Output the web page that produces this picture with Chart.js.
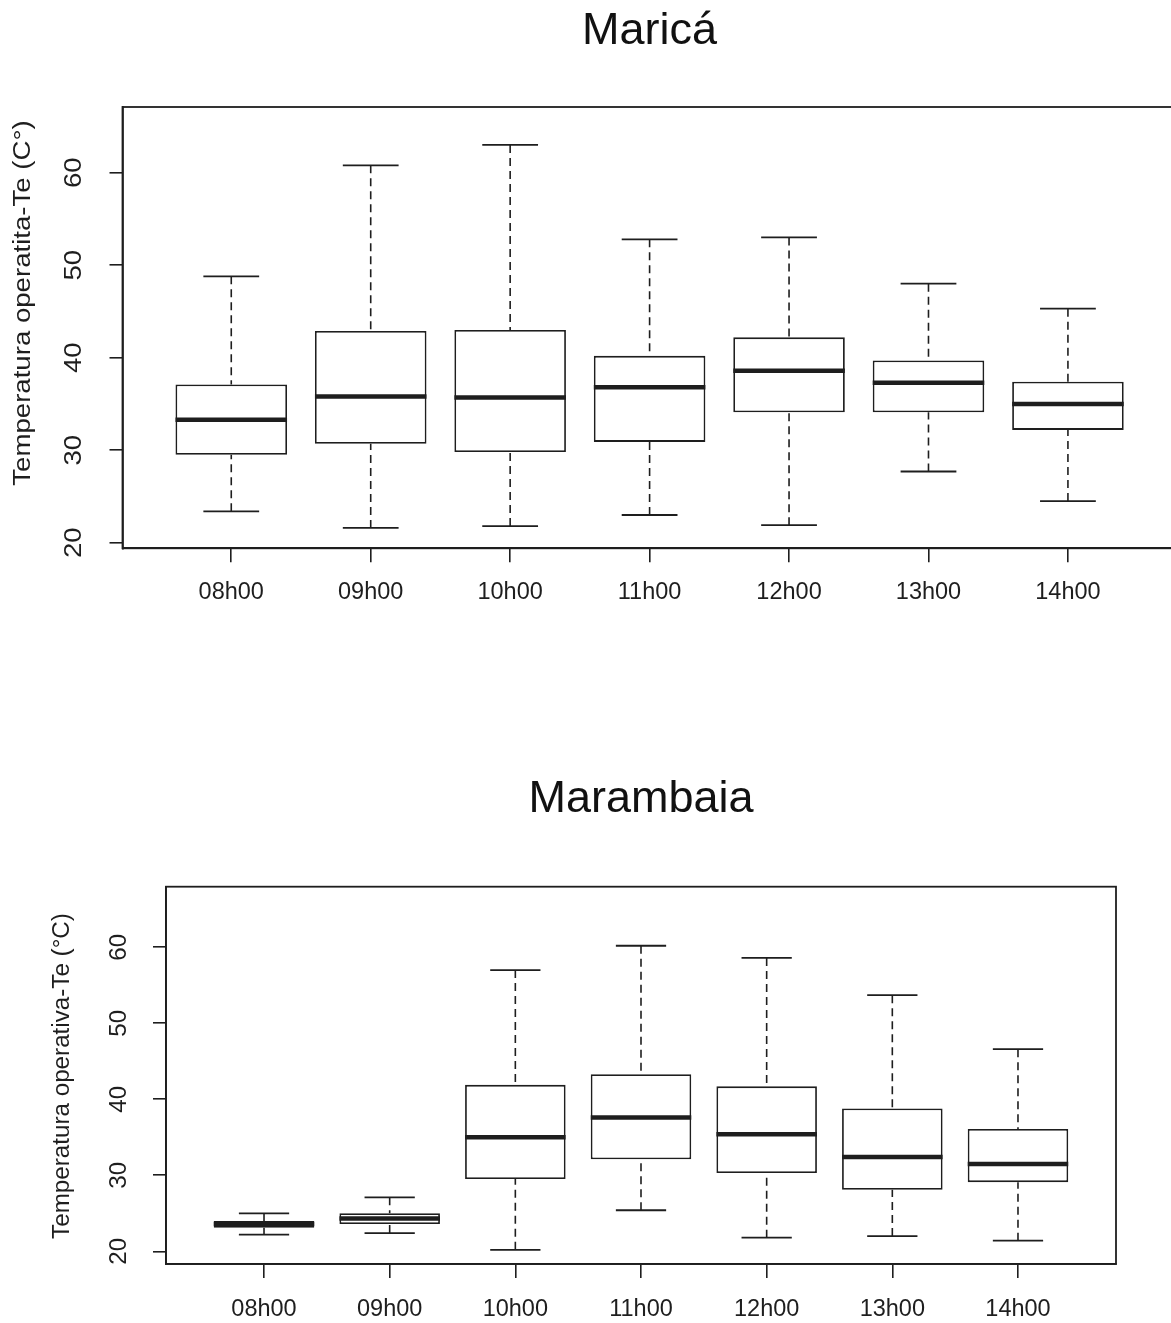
<!DOCTYPE html>
<html>
<head>
<meta charset="utf-8">
<script src="https://cdn.jsdelivr.net/npm/chart.js@4.4.1/dist/chart.umd.min.js"></script>
<style>
  html, body { margin: 0; padding: 0; background: #fff; overflow: hidden; width: 1171px; height: 1323px; }
  canvas { position: absolute; left: 0; }
  #marica { top: 0; }
  #marambaia { top: 660px; }
</style>
</head>
<body>
<canvas id="marica" width="1190" height="660"></canvas>
<canvas id="marambaia" width="1171" height="663"></canvas>
<script>
// Sampling hours (x categories) and value-axis ticks
const hours = ['08h00', '09h00', '10h00', '11h00', '12h00', '13h00', '14h00'];
const tempTicks = [20, 30, 40, 50, 60];

// Maricá: operative temperature five-number summaries per hour
const maricaMin = [23.4, 21.6, 21.8, 23.0, 21.9, 27.7, 24.5];
const maricaQ1  = [29.5, 30.7, 29.8, 30.9, 34.1, 34.1, 32.2];
const maricaMed = [33.3, 35.8, 35.7, 36.8, 38.6, 37.3, 35.0];
const maricaQ3  = [37.1, 42.9, 43.0, 40.2, 42.2, 39.7, 37.4];
const maricaMax = [48.8, 60.8, 63.0, 52.8, 53.0, 48.0, 45.3];

// Marambaia: operative temperature five-number summaries per hour
const marambaiaMin = [22.2, 22.4, 20.2, 25.4, 21.8, 22.0, 21.4];
const marambaiaQ1  = [23.1, 23.6, 29.5, 32.1, 30.3, 28.1, 29.1];
const marambaiaMed = [23.6, 24.3, 35.0, 37.6, 35.4, 32.4, 31.5];
const marambaiaQ3  = [24.0, 25.0, 41.9, 43.3, 41.7, 38.8, 36.1];
const marambaiaMax = [25.0, 27.1, 57.0, 60.2, 58.6, 53.7, 46.6];

const INK = '#1e1e1e';
const FONT = '"Liberation Sans", Arial, Helvetica, sans-serif';

// Draws whiskers, caps, medians, the plot frame and the vertical y texts
const boxplotMarks = {
  id: 'boxplotMarks',
  afterDatasetsDraw(chart, args, opts) {
    const { ctx, chartArea } = chart;
    const ys = chart.scales.y;
    const meta = chart.getDatasetMeta(0);
    ctx.save();
    ctx.strokeStyle = INK;
    ctx.lineCap = 'butt';
    meta.data.forEach((bar, i) => {
      const x = bar.x, w = bar.width;
      const pMin = ys.getPixelForValue(opts.min[i]);
      const pQ1 = ys.getPixelForValue(opts.q1[i]);
      const pMed = ys.getPixelForValue(opts.med[i]);
      const pQ3 = ys.getPixelForValue(opts.q3[i]);
      const pMax = ys.getPixelForValue(opts.max[i]);
      // dashed whiskers
      ctx.lineWidth = 1.6;
      ctx.setLineDash([8, 5]);
      ctx.beginPath();
      ctx.moveTo(x, pMax); ctx.lineTo(x, pQ3);
      ctx.moveTo(x, pMin); ctx.lineTo(x, pQ1);
      ctx.stroke();
      ctx.setLineDash([]);
      // staples
      ctx.lineWidth = 1.8;
      ctx.beginPath();
      ctx.moveTo(x - w / 4, pMax); ctx.lineTo(x + w / 4, pMax);
      ctx.moveTo(x - w / 4, pMin); ctx.lineTo(x + w / 4, pMin);
      ctx.stroke();
      // median
      ctx.lineWidth = 4.5;
      ctx.beginPath();
      ctx.moveTo(x - w / 2, pMed); ctx.lineTo(x + w / 2, pMed);
      ctx.stroke();
    });
    // plot frame
    ctx.lineWidth = 1.8;
    ctx.strokeRect(chartArea.left, chartArea.top, chartArea.right - chartArea.left, chartArea.bottom - chartArea.top);

    // vertical y tick labels and axis title (R-style, reading upwards)
    ctx.fillStyle = INK;
    ctx.textAlign = 'center';
    ctx.textBaseline = 'middle';
    ctx.font = opts.fontSize + 'px ' + FONT;
    ys.ticks.forEach(t => {
      const py = ys.getPixelForValue(t.value);
      ctx.save();
      ctx.translate(chartArea.left - opts.tickLabelGap, py);
      ctx.rotate(-Math.PI / 2);
      ctx.scale(opts.stretch, 1);
      ctx.fillText(String(t.value), 0, 0);
      ctx.restore();
    });
    ctx.save();
    ctx.translate(opts.titleX, opts.titleY);
    ctx.rotate(-Math.PI / 2);
    ctx.scale(opts.stretch, 1);
    ctx.fillText(opts.yTitle, 0, 0);
    ctx.restore();
    ctx.restore();
  }
};

function boxChart(id, cfg) {
  return new Chart(document.getElementById(id), {
    type: 'bar',
    data: {
      datasets: [{
        data: cfg.q1.map((q, i) => ({ x: i + 1, y: [q, cfg.q3[i]] })),
        backgroundColor: '#ffffff',
        borderColor: INK,
        borderWidth: 1.8,
        borderSkipped: false,
        barPercentage: 0.8,
        categoryPercentage: 1
      }]
    },
    options: {
      responsive: false,
      animation: false,
      devicePixelRatio: 1,
      layout: { padding: { left: 0, right: cfg.padRight, top: 0, bottom: 0 } },
      plugins: {
        legend: { display: false },
        tooltip: { enabled: false },
        title: {
          display: true,
          text: cfg.title,
          fullSize: false,
          color: '#111',
          font: { family: FONT, size: 45, weight: 'normal', lineHeight: 1.2 },
          padding: { top: cfg.titleTop, bottom: cfg.titleBottom }
        },
        boxplotMarks: {
          min: cfg.min, q1: cfg.q1, med: cfg.med, q3: cfg.q3, max: cfg.max,
          yTitle: cfg.yTitle, titleX: cfg.yTitleX, titleY: cfg.yTitleY,
          fontSize: cfg.fontSize, stretch: cfg.stretch, tickLabelGap: cfg.tickLabelGap
        }
      },
      scales: {
        x: {
          type: 'linear',
          offset: false,
          min: 0.22,
          max: 7.78,
          afterBuildTicks: s => { s.ticks = hours.map((h, i) => ({ value: i + 1 })); },
          afterFit: s => { s.height = cfg.xAxisHeight; },
          ticks: {
            autoSkip: false,
            maxRotation: 0,
            callback: (v, i) => hours[i],
            color: INK,
            font: { family: FONT, size: cfg.xFontSize },
            padding: cfg.xLabelPad
          },
          grid: { offset: false, drawOnChartArea: false, tickLength: 14, color: INK, lineWidth: 1.6 },
          border: { color: INK, width: 1.8 }
        },
        y: {
          type: 'linear',
          min: cfg.yMin,
          max: cfg.yMax,
          afterBuildTicks: s => { s.ticks = tempTicks.map(v => ({ value: v })); },
          afterFit: s => { s.width = cfg.yAxisWidth; },
          ticks: { display: false },
          grid: { drawOnChartArea: false, tickLength: 13, color: INK, lineWidth: 1.6 },
          border: { color: INK, width: 1.8 }
        }
      }
    },
    plugins: [boxplotMarks]
  });
}

boxChart('marica', {
  title: 'Maricá',
  yTitle: 'Temperatura operatita-Te (C°)',
  min: maricaMin, q1: maricaQ1, med: maricaMed, q3: maricaQ3, max: maricaMax,
  yMin: 19.4, yMax: 67.1,
  padRight: 13.3, yAxisWidth: 122.5, xAxisHeight: 111.7,
  titleTop: 5, titleBottom: 48,
  fontSize: 23, stretch: 1.2, tickLabelGap: 47.5,
  yTitleX: 24, yTitleY: 303,
  xFontSize: 23.5, xLabelPad: 16
});

boxChart('marambaia', {
  title: 'Marambaia',
  yTitle: 'Temperatura operativa-Te (°C)',
  min: marambaiaMin, q1: marambaiaQ1, med: marambaiaMed, q3: marambaiaQ3, max: marambaiaMax,
  yMin: 18.33, yMax: 67.97,
  padRight: 55, yAxisWidth: 166, xAxisHeight: 59,
  titleTop: 113, titleBottom: 59.7,
  fontSize: 23.5, stretch: 1.03, tickLabelGap: 46.5,
  yTitleX: 63, yTitleY: 416,
  xFontSize: 23.5, xLabelPad: 17
});
</script>
</body>
</html>
